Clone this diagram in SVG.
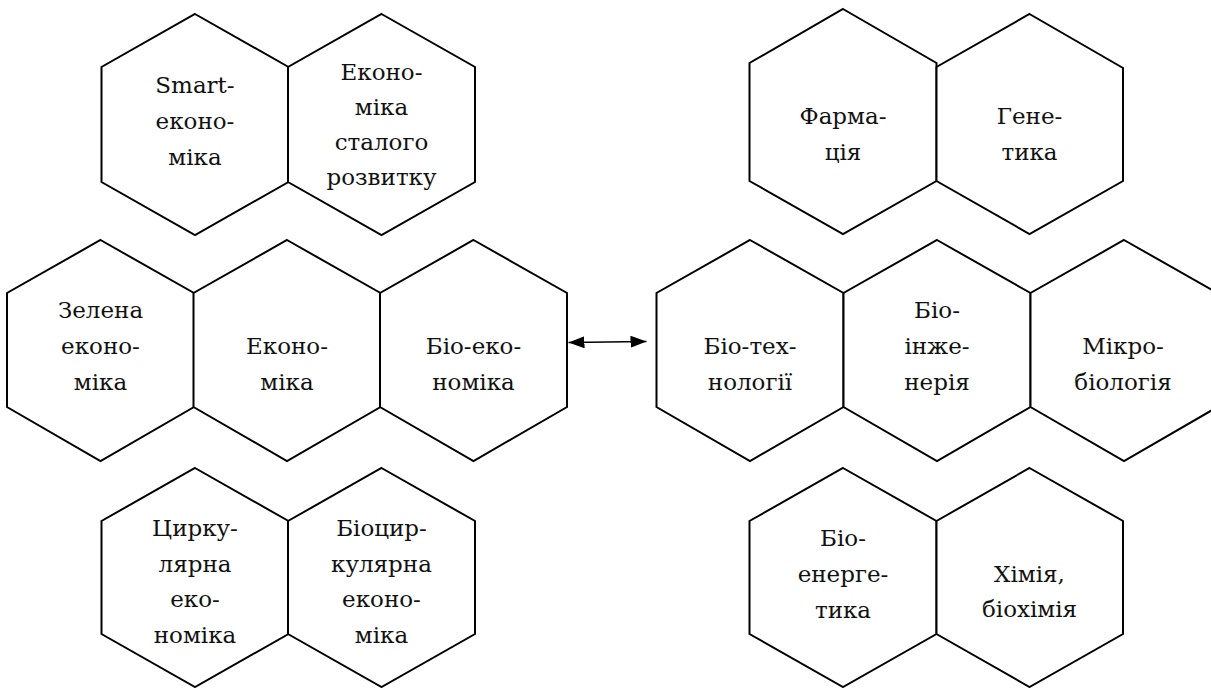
<svg xmlns="http://www.w3.org/2000/svg" width="1211" height="688" viewBox="0 0 1211 688">
<style>
.hex{fill:#fff;stroke:#000;stroke-width:2;stroke-linejoin:miter}
.lbl{font-family:"DejaVu Serif","Liberation Serif",serif;font-size:23px;fill:#111;text-anchor:middle}
.conn{stroke:#000;stroke-width:1.5;fill:none}
</style>
<defs>
<marker id="ah" viewBox="0 0 16 12" refX="16" refY="6" markerWidth="16" markerHeight="12" markerUnits="userSpaceOnUse" orient="auto-start-reverse">
<path d="M0,0 L16,6 L0,12 Z" fill="#000"/>
</marker>
</defs>

<g id="smart">
<polygon class="hex" points="195,14 288.5,67 288.5,182 195,235 101.5,182 101.5,67"/>
<text class="lbl"><tspan x="195" y="93">Smart-</tspan><tspan x="195" y="129">еконо-</tspan><tspan x="195" y="165">міка</tspan></text>
</g>
<g id="sustainable">
<polygon class="hex" points="381.5,14 475,67 475,182 381.5,235 288,182 288,67"/>
<text class="lbl"><tspan x="381.5" y="80">Еконо-</tspan><tspan x="381.5" y="115">міка</tspan><tspan x="381.5" y="150">сталого</tspan><tspan x="381.5" y="185">розвитку</tspan></text>
</g>

<g id="green">
<polygon class="hex" points="100.5,240 194,293 194,407 100.5,461 7,407 7,293"/>
<text class="lbl"><tspan x="100.5" y="318">Зелена</tspan><tspan x="100.5" y="354">еконо-</tspan><tspan x="100.5" y="390">міка</tspan></text>
</g>
<g id="economy">
<polygon class="hex" points="287,240 380.5,293 380.5,407 287,461 193.5,407 193.5,293"/>
<text class="lbl"><tspan x="287" y="354">Еконо-</tspan><tspan x="287" y="390">міка</tspan></text>
</g>
<g id="bioeconomy">
<polygon class="hex" points="473.5,240 567,293 567,407 473.5,461 380,407 380,293"/>
<text class="lbl"><tspan x="473.5" y="354">Біо-еко-</tspan><tspan x="473.5" y="390">номіка</tspan></text>
</g>

<g id="circular">
<polygon class="hex" points="195,468 288.5,521 288.5,634 195,687 101.5,634 101.5,521"/>
<text class="lbl"><tspan x="195" y="536">Цирку-</tspan><tspan x="195" y="571.5">лярна</tspan><tspan x="195" y="607">еко-</tspan><tspan x="195" y="642.5">номіка</tspan></text>
</g>
<g id="biocircular">
<polygon class="hex" points="381.5,468 475,521 475,634 381.5,687 288,634 288,521"/>
<text class="lbl"><tspan x="381.5" y="536">Біоцир-</tspan><tspan x="381.5" y="571.5">кулярна</tspan><tspan x="381.5" y="607">еконо-</tspan><tspan x="381.5" y="642.5">міка</tspan></text>
</g>

<g id="pharmacy">
<polygon class="hex" points="843,9 936.5,63 936.5,181 843,234 749.5,181 749.5,63"/>
<text class="lbl"><tspan x="843" y="124">Фарма-</tspan><tspan x="843" y="160">ція</tspan></text>
</g>
<g id="genetics">
<polygon class="hex" points="1029.5,14 1123,68 1123,181 1029.5,234 936.5,181 936.5,67"/>
<text class="lbl"><tspan x="1029.5" y="123.5">Гене-</tspan><tspan x="1029.5" y="159.5">тика</tspan></text>
</g>

<g id="biotech">
<polygon class="hex" points="750,240 843.5,293 843.5,407 750,461 656.5,407 656.5,293"/>
<text class="lbl"><tspan x="750" y="354">Біо-тех-</tspan><tspan x="750" y="390">нології</tspan></text>
</g>
<g id="bioeng">
<polygon class="hex" points="937,240 1030.5,293 1030.5,407 937,461 843.5,407 843.5,293"/>
<text class="lbl"><tspan x="937" y="317.5">Біо-</tspan><tspan x="937" y="354">інже-</tspan><tspan x="937" y="390">нерія</tspan></text>
</g>
<g id="microbio">
<polygon class="hex" points="1124,240 1217.5,293 1217.5,407 1124,461 1030.5,407 1030.5,293"/>
<text class="lbl"><tspan x="1123" y="354">Мікро-</tspan><tspan x="1123" y="390">біологія</tspan></text>
</g>

<g id="bioenergy">
<polygon class="hex" points="843,468 936.5,521 936.5,634 843,687 749.5,634 749.5,521"/>
<text class="lbl"><tspan x="843" y="546">Біо-</tspan><tspan x="843" y="582">енерге-</tspan><tspan x="843" y="618">тика</tspan></text>
</g>
<g id="chemistry">
<polygon class="hex" points="1029.5,468 1123,521 1123,634 1029.5,687 936.5,634 936.5,521"/>
<text class="lbl"><tspan x="1029.5" y="581.5">Хімія,</tspan><tspan x="1029.5" y="617">біохімія</tspan></text>
</g>

<g id="connectors">
<line class="conn" x1="568.5" y1="342.5" x2="646.5" y2="341.5" marker-start="url(#ah)" marker-end="url(#ah)"/>
</g>
</svg>
